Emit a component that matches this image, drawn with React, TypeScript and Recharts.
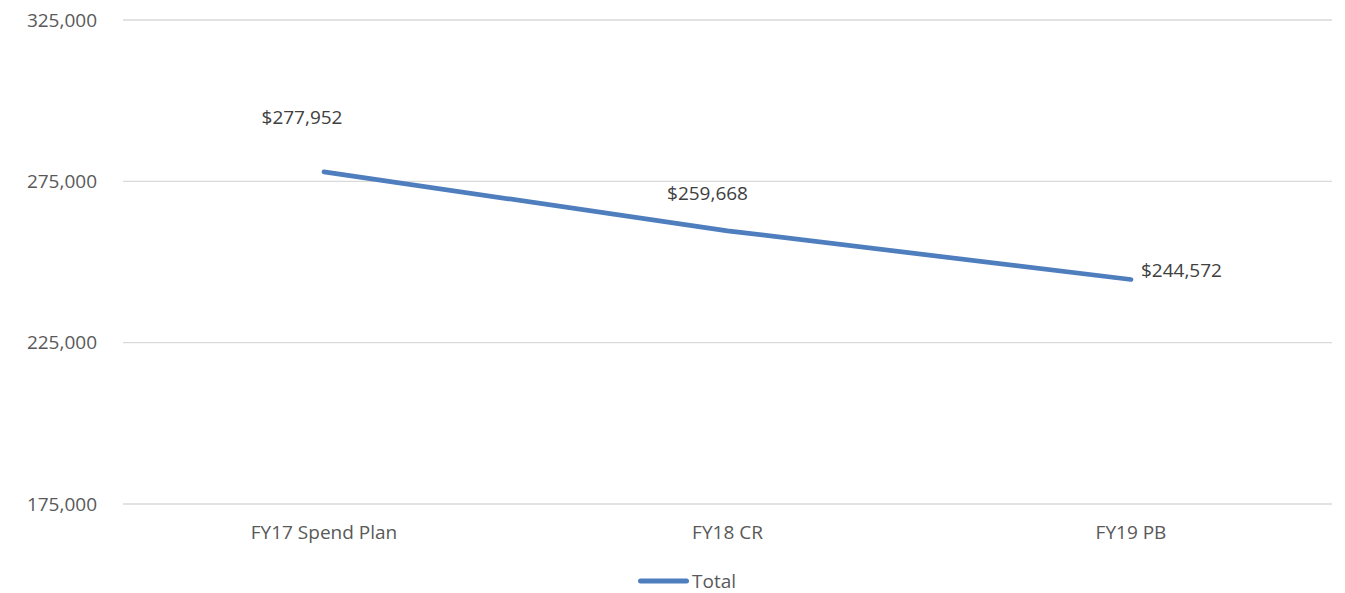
import React from "react";
import { LineChart, Line, XAxis, YAxis, CartesianGrid, LabelList } from "recharts";

const categories = ["FY17 Spend Plan", "FY18 CR", "FY19 PB"];
const totals = [277952, 259668, 244572];
const yTicks = [175000, 225000, 275000, 325000];
const seriesName = "Total";

const data = categories.map((c, i) => ({ name: c, total: totals[i] }));

const FONT = "'Open Sans', sans-serif";
const BLUE = "#4F7EBE";

const fmtAxis = (v: number) => v.toLocaleString("en-US");
const fmtLabel = (v: number) => "$" + v.toLocaleString("en-US");

const aboveOffsets = [
  { dx: -22, dy: -55 },
  { dx: -20, dy: -38 },
];

const DataLabel = (props: any) => {
  const { x, y, value, index } = props;
  const last = index === totals.length - 1;
  if (last) {
    return (
      <text x={x + 10} y={y - 9} dy="0.355em" textAnchor="start" fontFamily={FONT} fontSize={19} fill="#404040">
        {fmtLabel(value)}
      </text>
    );
  }
  const o = aboveOffsets[index] || { dx: -21, dy: -45 };
  return (
    <text x={x + o.dx} y={y + o.dy} dy="0.355em" textAnchor="middle" fontFamily={FONT} fontSize={19} fill="#404040">
      {fmtLabel(value)}
    </text>
  );
};

export default function App() {
  return (
    <div style={{ position: "absolute", left: 0, top: 0, width: 1345, height: 593, background: "#fff" }}>
      <LineChart width={1345} height={593} data={data} margin={{ top: 20, right: 13, bottom: 59, left: 0 }}>
        <CartesianGrid vertical={false} stroke="#D9D9D9" strokeWidth={1.3} />
        <XAxis
          dataKey="name"
          axisLine={false}
          tickLine={false}
          tickMargin={16}
          height={30}
          padding={{ left: 201, right: 201 }}
          tick={{ fontFamily: FONT, fontSize: 19, fill: "#595959" }}
          interval={0}
        />
        <YAxis
          domain={[175000, 325000]}
          ticks={yTicks}
          tickFormatter={fmtAxis}
          axisLine={false}
          tickLine={false}
          width={123}
          tickMargin={20}
          tick={{ fontFamily: FONT, fontSize: 19, fill: "#595959" }}
        />
        <Line
          type="linear"
          dataKey="total"
          name={seriesName}
          stroke={BLUE}
          strokeWidth={4.7}
          strokeLinecap="round"
          dot={false}
          activeDot={false}
          isAnimationActive={false}
        >
          <LabelList dataKey="total" content={<DataLabel />} />
        </Line>
      </LineChart>
      <div
        style={{
          position: "absolute",
          left: 635,
          top: 569,
          height: 24,
          display: "flex",
          alignItems: "center",
        }}
      >
        <svg width={57} height={10}>
          <line x1={5.5} y1={5} x2={51.5} y2={5} stroke={BLUE} strokeWidth={5} strokeLinecap="round" />
        </svg>
        <span style={{ fontFamily: FONT, fontSize: 19, color: "#595959" }}>{seriesName}</span>
      </div>
    </div>
  );
}
